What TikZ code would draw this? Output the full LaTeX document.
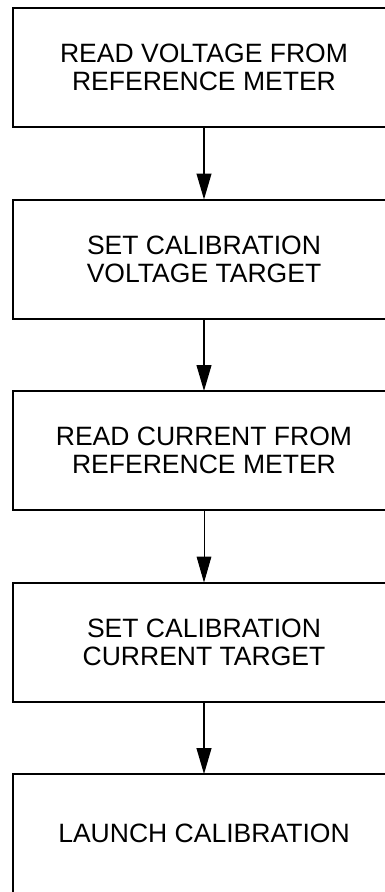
\documentclass[tikz,border=0pt]{standalone}
\usepackage{fontspec}
\setmainfont{Liberation Sans}
\usetikzlibrary{
	arrows.meta,
	positioning
}
\begin{document}
\begin{tikzpicture}[
			x=0.75pt, y=-0.75pt,
			font=\fontsize{19.9pt}{20.8pt}\selectfont,
			etapa/.style={draw, line width=1.5pt, outer sep=0pt, inner sep=0pt, minimum width=286.5pt, minimum height=89.25pt, align=center},
			>={Triangle[length=19.5pt, width=11pt]},
			seta/.style={->, line width=1.5pt},
			setafina/.style={->, line width=0.75pt},
			node distance=54.4pt
		]

		% area visivel
		\clip (0,0) rectangle (385,892);

		% etapas
		\node[etapa] (leitv) at (204,67.5) {READ VOLTAGE FROM\\ REFERENCE METER};
		\node[etapa, below=of leitv] (alvov) {SET CALIBRATION\\ VOLTAGE TARGET};
		\node[etapa, below=of alvov] (leitc) {READ CURRENT FROM\\ REFERENCE METER};
		\node[etapa, below=of leitc] (alvoc) {SET CALIBRATION\\ CURRENT TARGET};
		\node[etapa, below=of alvoc] (lanc) {LAUNCH CALIBRATION};

		% ligacoes
		\draw[seta] (leitv) -- (alvov);
		\draw[seta] (alvov) -- (leitc);
		\draw[setafina] (leitc) -- (alvoc);
		\draw[seta] (alvoc) -- (lanc);
	\end{tikzpicture}
\end{document}
